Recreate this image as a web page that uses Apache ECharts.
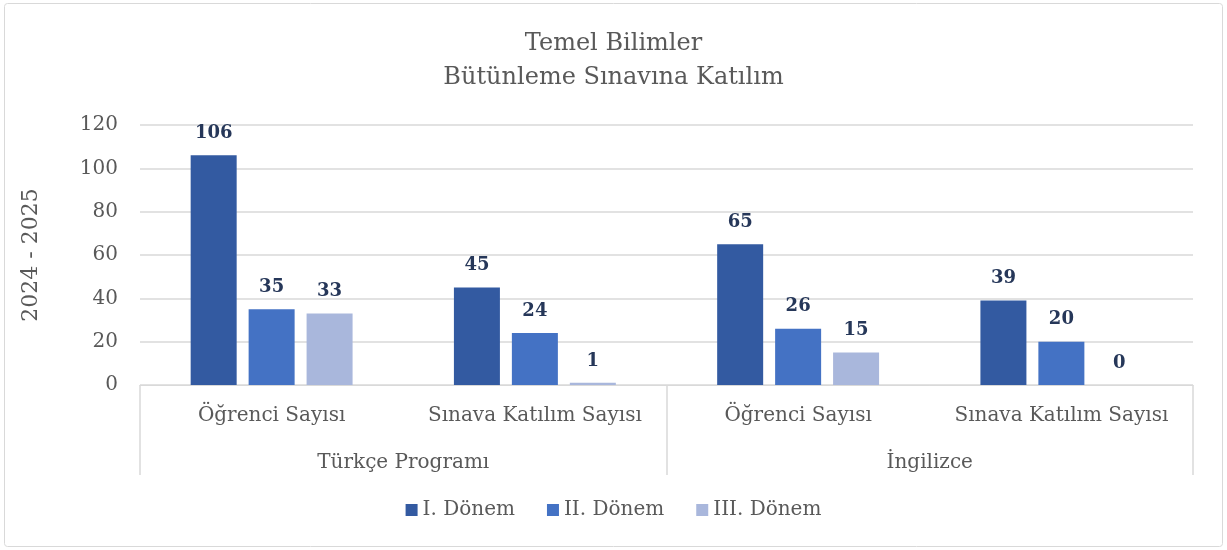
<!DOCTYPE html>
<html>
<head>
<meta charset="utf-8">
<script src="https://cdn.jsdelivr.net/npm/echarts@6/dist/echarts.min.js"></script>
<style>html,body{margin:0;padding:0;background:#fff}#c{width:1227px;height:550px}</style>
</head>
<body>
<div id="c"></div>
<script>
const categories = ["Öğrenci Sayısı", "Sınava Katılım Sayısı", "Öğrenci Sayısı", "Sınava Katılım Sayısı"];
const groups = ["Türkçe Programı", "İngilizce"];
const seriesNames = ["I. Dönem", "II. Dönem", "III. Dönem"];
const donem1 = [106, 45, 65, 39];
const donem2 = [35, 24, 26, 20];
const donem3 = [33, 1, 15, 0];
const yTicks = [0, 20, 40, 60, 80, 100, 120];

const FONT = "DejaVu Serif";
const colors = ["#335aa1", "#4472c4", "#a9b7dc"];
const chart = echarts.init(document.getElementById('c'));
const mkSeries = (name, data, i) => ({
  name, type: 'bar', data, xAxisIndex: 0, barWidth: 46, barGap: '26%',
  itemStyle: { color: colors[i] },
  label: { show: true, position: 'top', distance: 13, fontFamily: FONT, fontWeight: 'bold', fontSize: 18, color: '#263759' }
});
chart.setOption({
  animation: false,
  title: {
    text: 'Temel Bilimler\nBütünleme Sınavına Katılım',
    left: 'center', top: 22,
    textStyle: { fontFamily: FONT, fontWeight: 'normal', fontSize: 24, color: '#595959', lineHeight: 34 }
  },
  graphic: [{ type: 'rect', shape: { x: 4.5, y: 3.5, width: 1218, height: 543, r: 3 }, style: { fill: 'none', stroke: '#d9d9d9', lineWidth: 1 }, silent: true }],
  legend: {
    data: seriesNames, bottom: 25, left: 'center', itemWidth: 12, itemHeight: 12, itemGap: 32,
    icon: 'rect',
    textStyle: { fontFamily: FONT, fontSize: 20, color: '#595959' }
  },
  grid: { left: 140, right: 34, top: 125, bottom: 165 },
  xAxis: [{
    type: 'category', data: categories, position: 'bottom',
    axisLine: { lineStyle: { color: '#d9d9d9', width: 1 } },
    axisTick: { show: false },
    axisLabel: { fontFamily: FONT, fontSize: 20, color: '#595959', margin: 21, interval: 0 }
  }, {
    type: 'category', data: groups, position: 'bottom',
    axisLine: { show: false },
    axisTick: { show: true, length: 90, lineStyle: { color: '#d9d9d9', width: 1.5 } },
    axisLabel: { fontFamily: FONT, fontSize: 20, color: '#595959', margin: 68, interval: 0 }
  }],
  yAxis: {
    type: 'value', min: 0, max: 120, interval: 20,
    name: '2024 - 2025', nameLocation: 'middle', nameGap: 98, nameRotate: 90,
    nameTextStyle: { fontFamily: FONT, fontSize: 22, color: '#595959' },
    axisLine: { show: false }, axisTick: { show: false },
    splitLine: { lineStyle: { color: '#d9d9d9', width: 1.5 } },
    axisLabel: { fontFamily: FONT, fontSize: 20, color: '#595959', margin: 22, customValues: yTicks }
  },
  series: [mkSeries(seriesNames[0], donem1, 0), mkSeries(seriesNames[1], donem2, 1), mkSeries(seriesNames[2], donem3, 2)]
});
</script>
</body>
</html>
